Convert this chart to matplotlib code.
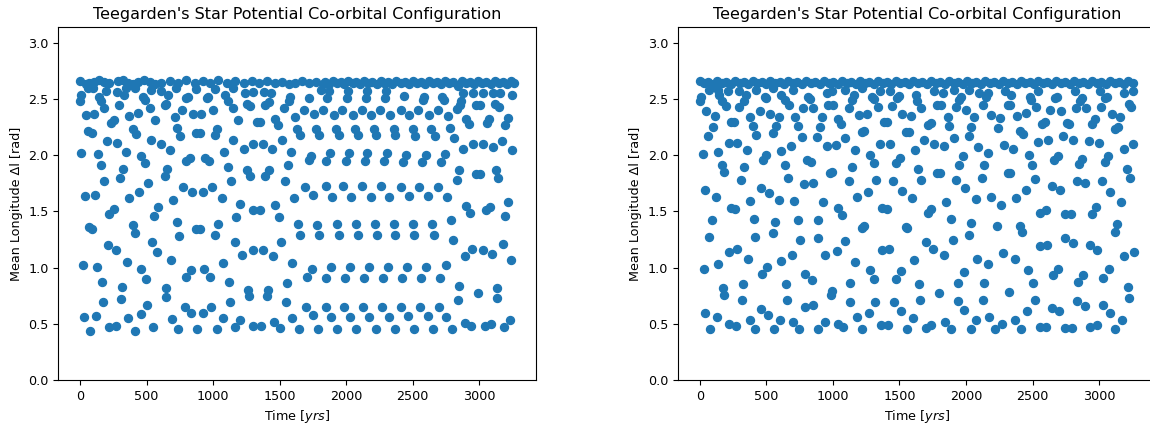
import matplotlib
matplotlib.use('Agg')
import matplotlib.pyplot as plt
import numpy as np

# (time [yr], mean longitude difference [rad])
# ---- left panel ----
a_top = [
    (0, 2.66), (44, 2.63), (69, 2.64), (102, 2.65), (144, 2.67), (183, 2.65), (221, 2.64), (284, 2.66),
    (321, 2.67), (359, 2.64), (397, 2.63), (434, 2.65), (480, 2.67), (523, 2.65), (560, 2.63),
    (611, 2.64), (674, 2.66), (737, 2.64), (800, 2.67), (863, 2.64), (926, 2.66), (976, 2.64),
    (1039, 2.67), (1102, 2.64), (1165, 2.66), (1229, 2.64), (1292, 2.66), (1343, 2.64), (1406, 2.66),
    (1469, 2.64), (1518, 2.65), (1569, 2.63), (1619, 2.64), (1670, 2.66), (1720, 2.64), (1771, 2.65),
    (1826, 2.63), (1842, 2.65), (1873, 2.63), (1899, 2.66), (1930, 2.64), (1961, 2.65), (1987, 2.63),
    (2018, 2.66), (2049, 2.64), (2074, 2.65), (2105, 2.63), (2136, 2.66), (2167, 2.64), (2198, 2.65),
    (2229, 2.63), (2260, 2.66), (2286, 2.64), (2317, 2.65), (2348, 2.63), (2379, 2.66), (2410, 2.64),
    (2441, 2.65), (2472, 2.63), (2503, 2.66), (2534, 2.64), (2565, 2.65), (2595, 2.63), (2626, 2.66),
    (2657, 2.64), (2683, 2.65), (2714, 2.63), (2745, 2.66), (2776, 2.64), (2807, 2.65), (2838, 2.62),
    (2869, 2.66), (2900, 2.64), (2931, 2.65), (2962, 2.63), (2993, 2.66), (3024, 2.64), (3055, 2.65),
    (3086, 2.63), (3117, 2.66), (3148, 2.64), (3179, 2.65), (3210, 2.63), (3240, 2.66), (3262, 2.64),
    (57, 2.60), (95, 2.60), (195, 2.57), (279, 2.56), (347, 2.60), (410, 2.60), (536, 2.58),
    (724, 2.60), (875, 2.59), (1014, 2.59), (1153, 2.60),
]
a_seg1 = [
    (6, 2.54), (0, 2.48), (144, 2.52), (158, 2.48), (296, 2.45), (334, 2.54), (473, 2.52), (485, 2.49),
    (183, 2.42), (523, 2.42), (44, 2.36), (107, 2.37), (372, 2.35), (434, 2.38), (233, 2.29), (253, 2.31),
    (566, 2.31), (62, 2.22), (90, 2.20), (397, 2.23), (422, 2.19), (203, 2.13), (279, 2.11), (536, 2.14),
    (11, 2.02), (132, 2.01), (347, 2.03), (460, 1.99), (490, 1.93), (158, 1.91), (321, 1.88), (178, 1.77),
    (303, 1.80), (510, 1.75), (36, 1.64), (115, 1.65), (366, 1.62), (447, 1.67), (221, 1.48), (258, 1.52),
    (555, 1.46), (586, 1.54), (64, 1.36), (87, 1.34), (397, 1.38), (410, 1.31), (543, 1.23), (207, 1.20),
    (270, 1.16), (581, 1.14), (19, 1.02), (127, 1.01), (354, 1.05), (460, 0.99), (497, 0.90), (163, 0.87),
    (314, 0.83), (170, 0.69), (309, 0.72), (506, 0.67), (27, 0.56), (120, 0.57), (359, 0.55), (455, 0.59),
    (74, 0.44), (221, 0.47), (270, 0.48), (410, 0.44), (548, 0.47),
]
a_seg2 = [
    (611, 2.57), (662, 2.54), (649, 2.46), (636, 2.45), (800, 2.51), (812, 2.52), (952, 2.51), (964, 2.52),
    (1090, 2.54), (1115, 2.48), (1148, 2.42), (712, 2.34), (730, 2.24), (770, 2.40), (850, 2.37),
    (913, 2.37), (997, 2.40), (1027, 2.23), (1014, 2.18), (1191, 2.31), (749, 2.17), (871, 2.20),
    (901, 2.20), (1153, 2.14), (611, 2.10), (679, 2.05), (800, 1.95), (826, 1.98), (939, 1.98),
    (971, 1.95), (1083, 2.03), (1115, 1.90), (654, 1.88), (636, 1.82), (1133, 1.77), (775, 1.72),
    (845, 1.67), (921, 1.67), (989, 1.72), (1065, 1.62), (700, 1.60), (1203, 1.57), (730, 1.41),
    (875, 1.34), (901, 1.34), (1034, 1.39), (1173, 1.45), (744, 1.28), (1014, 1.29), (1165, 1.23),
    (686, 1.07), (1216, 1.11), (1077, 1.04), (831, 0.98), (795, 0.92), (931, 0.99), (976, 0.92),
    (1120, 0.87), (649, 0.82), (644, 0.74), (1128, 0.69), (787, 0.65), (838, 0.60), (926, 0.60),
    (981, 0.65), (695, 0.54), (1077, 0.55), (737, 0.45), (880, 0.45), (1027, 0.45), (1165, 0.47),
    (1203, 0.53),
]
a_seg3 = [
    (1241, 2.55), (1297, 2.56), (1254, 2.46), (1279, 2.44), (1380, 2.56), (1438, 2.55), (1392, 2.45),
    (1423, 2.47), (1569, 2.48), (1582, 2.52), (1531, 2.42), (1720, 2.51), (1682, 2.40), (1757, 2.37),
    (1826, 2.40), (1808, 2.58), (1619, 2.34), (1329, 2.30), (1355, 2.30), (1469, 2.32), (1488, 2.27),
    (1632, 2.23), (1657, 2.18), (1776, 2.23), (1796, 2.18), (1518, 2.14), (1229, 2.06), (1304, 2.10),
    (1373, 2.10), (1443, 2.06), (1589, 2.03), (1720, 1.96), (1740, 1.99), (1563, 1.91), (1254, 1.87),
    (1279, 1.82), (1392, 1.82), (1423, 1.87), (1544, 1.77), (1690, 1.72), (1750, 1.65), (1607, 1.62),
    (1304, 1.51), (1355, 1.51), (1463, 1.56), (1498, 1.45), (1640, 1.39), (1652, 1.29), (1783, 1.38),
    (1796, 1.29), (1514, 1.23), (1304, 1.16), (1373, 1.16), (1448, 1.10), (1594, 1.04), (1745, 0.99),
    (1708, 0.92), (1556, 0.86), (1261, 0.80), (1271, 0.75), (1413, 0.80), (1406, 0.75), (1551, 0.69),
    (1695, 0.65), (1750, 0.58), (1594, 0.55), (1304, 0.48), (1362, 0.48), (1455, 0.52), (1506, 0.46),
    (1645, 0.45), (1791, 0.45),
]
a_seg4 = [
    (1935, 0.45), (2078, 0.45), (2225, 0.45), (2368, 0.45),
    (1884, 0.56), (2030, 0.56), (2174, 0.56), (2320, 0.56),
    (1846, 0.65), (1986, 0.65), (2129, 0.65), (2269, 0.65),
    (1846, 0.91), (1990, 0.91), (2131, 0.91), (2275, 0.91),
    (1884, 1.01), (2028, 1.01), (2174, 1.01), (2313, 1.01),
    (1947, 1.29), (2086, 1.29), (2229, 1.29), (2370, 1.29),
    (1930, 1.39), (2073, 1.39), (2217, 1.39), (2358, 1.39),
    (1897, 1.63), (2040, 1.63), (2187, 1.63), (2325, 1.63),
    (1846, 1.73), (1980, 1.73), (2119, 1.73), (2262, 1.73),
    (1846, 1.95), (1998, 1.95), (2141, 1.95), (2288, 1.95),
    (1879, 2.02), (2023, 2.02), (2161, 2.02), (2308, 2.02),
    (1947, 2.18), (2086, 2.18), (2225, 2.18), (2370, 2.18),
    (1922, 2.23), (2066, 2.23), (2212, 2.23), (2358, 2.23),
    (1909, 2.36), (2049, 2.36), (2187, 2.36), (2330, 2.36),
    (1972, 2.40), (2116, 2.40), (2257, 2.40),
    (1859, 2.51), (2005, 2.51), (2149, 2.51), (2295, 2.51),
    (1873, 2.57), (2018, 2.57), (2159, 2.57), (2301, 2.57),
]
a_seg5 = [
    (2439, 2.53), (2589, 2.52), (2577, 2.49), (2723, 2.52), (2733, 2.49), (2867, 2.48), (2855, 2.45),
    (2413, 2.40), (2476, 2.36), (2544, 2.40), (2622, 2.36), (2690, 2.40), (2766, 2.35), (2834, 2.41),
    (2879, 2.55), (2955, 2.55), (3031, 2.55), (3106, 2.55), (3157, 2.55), (3245, 2.54),
    (2980, 2.45), (3005, 2.45), (3119, 2.46), (3152, 2.43), (2904, 2.32), (2925, 2.28), (3056, 2.29),
    (3075, 2.32), (3194, 2.27), (3220, 2.33), (2502, 2.23), (2521, 2.17), (2640, 2.23), (2665, 2.17),
    (2783, 2.24), (2809, 2.15), (2879, 2.06), (2955, 2.10), (3031, 2.10), (3101, 2.07), (3169, 2.13),
    (3245, 2.05), (2451, 2.00), (2425, 1.94), (2597, 2.00), (2572, 1.94), (2741, 2.01), (2715, 1.94),
    (2849, 1.87), (2834, 1.78), (2980, 1.83), (3005, 1.83), (3126, 1.87), (3143, 1.80),
    (2413, 1.72), (2476, 1.64), (2547, 1.72), (2615, 1.64), (2690, 1.72), (2759, 1.63),
    (2904, 1.55), (2930, 1.49), (3051, 1.51), (3081, 1.54), (3220, 1.58), (3194, 1.46),
    (2502, 1.39), (2514, 1.29), (2647, 1.39), (2660, 1.29), (2792, 1.42), (2804, 1.25),
    (2892, 1.10), (2949, 1.17), (3031, 1.16), (3094, 1.12), (3176, 1.21), (3239, 1.07),
    (2456, 1.01), (2421, 0.91), (2602, 1.01), (2565, 0.91), (2748, 1.02), (2708, 0.91),
    (2849, 0.84), (2841, 0.71), (2993, 0.77), (3131, 0.82), (3136, 0.73),
    (2413, 0.65), (2463, 0.57), (2556, 0.65), (2615, 0.57), (2698, 0.65), (2753, 0.56),
    (2514, 0.45), (2652, 0.45), (2799, 0.45), (2892, 0.51), (2942, 0.48), (3043, 0.48), (3086, 0.50),
    (3187, 0.47), (3232, 0.53),
]

# ---- right panel ----
b_top = [
    (0, 2.66), (31, 2.64), (62, 2.65), (98, 2.63), (129, 2.66), (165, 2.64), (196, 2.65), (232, 2.63),
    (263, 2.66), (299, 2.64), (330, 2.65), (366, 2.63), (397, 2.66), (433, 2.64), (464, 2.65), (501, 2.63),
    (531, 2.66), (568, 2.64), (599, 2.65), (635, 2.63), (666, 2.66), (702, 2.64), (733, 2.65), (769, 2.63),
    (800, 2.66), (836, 2.64), (867, 2.65), (903, 2.63), (934, 2.66), (970, 2.64), (1001, 2.65),
    (1037, 2.63), (1068, 2.66), (1104, 2.64), (1135, 2.65), (1171, 2.63), (1202, 2.66), (1238, 2.64),
    (1269, 2.65), (1305, 2.63), (1336, 2.66), (1373, 2.64), (1404, 2.65), (1440, 2.63), (1471, 2.66),
    (1507, 2.64), (1538, 2.65), (1574, 2.63), (1605, 2.66), (1641, 2.64), (1672, 2.65), (1708, 2.63),
    (1739, 2.66), (1775, 2.64), (1806, 2.65), (1842, 2.63), (1873, 2.66), (1909, 2.64), (1940, 2.65),
    (1976, 2.63), (2007, 2.66), (2043, 2.64), (2074, 2.65), (2110, 2.63), (2141, 2.66), (2178, 2.64),
    (2208, 2.65), (2245, 2.63), (2276, 2.66), (2312, 2.64), (2343, 2.65), (2379, 2.63), (2410, 2.66),
    (2446, 2.64), (2477, 2.65), (2513, 2.63), (2544, 2.66), (2580, 2.64), (2611, 2.65), (2647, 2.63),
    (2678, 2.66), (2714, 2.64), (2745, 2.65), (2781, 2.63), (2812, 2.66), (2848, 2.64), (2879, 2.65),
    (2915, 2.63), (2946, 2.66), (2983, 2.64), (3013, 2.65), (3050, 2.63), (3081, 2.66), (3117, 2.64),
    (3148, 2.65), (3184, 2.63), (3215, 2.66), (3251, 2.64),
    (1911, 2.58), (2025, 2.58),
]
b_seg1 = [
    (8, 2.52), (0, 2.48), (72, 2.58), (135, 2.58), (148, 2.54), (165, 2.48), (198, 2.44), (211, 2.57),
    (298, 2.57), (349, 2.54), (336, 2.48), (298, 2.43), (424, 2.58), (487, 2.52), (501, 2.51), (551, 2.60),
    (614, 2.54), (639, 2.49), (669, 2.45), (702, 2.58), (815, 2.52), (828, 2.50), (777, 2.42), (853, 2.42),
    (954, 2.55), (992, 2.57), (966, 2.45), (1004, 2.45), (46, 2.39), (115, 2.35), (235, 2.30), (261, 2.30),
    (375, 2.34), (399, 2.26), (450, 2.39), (525, 2.37), (593, 2.34), (576, 2.26), (551, 2.20), (714, 2.34),
    (740, 2.26), (916, 2.34), (903, 2.25), (1042, 2.32), (97, 2.25), (64, 2.17), (424, 2.18), (765, 2.16),
    (878, 2.16), (223, 2.11), (281, 2.11), (356, 2.05), (22, 2.01), (139, 2.03), (501, 2.00), (475, 1.96),
    (614, 2.04), (689, 2.08), (803, 1.96), (835, 1.94), (954, 2.08), (1022, 2.09), (165, 1.91), (185, 1.85),
    (331, 1.90), (639, 1.91), (664, 1.80), (312, 1.78), (785, 1.74), (853, 1.75), (979, 1.84), (997, 1.85),
    (41, 1.69), (122, 1.63), (457, 1.71), (518, 1.66), (375, 1.59), (595, 1.60), (709, 1.59), (235, 1.53),
    (266, 1.52), (929, 1.58), (1042, 1.53), (90, 1.42), (407, 1.43), (563, 1.41), (740, 1.42), (891, 1.42),
    (72, 1.27), (417, 1.27), (551, 1.31), (752, 1.25), (885, 1.26), (218, 1.14), (279, 1.17), (361, 1.08),
    (614, 1.06), (695, 1.11), (941, 1.11), (1029, 1.15), (29, 0.99), (135, 1.03), (508, 1.01), (467, 0.94),
    (791, 0.94), (840, 0.89), (172, 0.82), (180, 0.76), (324, 0.85), (651, 0.85), (992, 0.79), (985, 0.76),
    (316, 0.71), (658, 0.71), (462, 0.63), (513, 0.58), (791, 0.65), (848, 0.67), (39, 0.60), (127, 0.56),
    (375, 0.53), (601, 0.53), (702, 0.52), (941, 0.52), (1042, 0.50), (79, 0.45), (223, 0.50), (273, 0.48),
    (412, 0.45), (558, 0.45), (747, 0.45), (891, 0.45),
]
b_seg2 = [
    (1093, 2.58), (1156, 2.54), (1142, 2.49), (1118, 2.42), (1219, 2.60), (1294, 2.52), (1307, 2.50),
    (1337, 2.43), (1357, 2.57), (1432, 2.57), (1446, 2.44), (1483, 2.51), (1495, 2.53), (1621, 2.54),
    (1630, 2.48), (1659, 2.42), (1761, 2.57), (1824, 2.55), (1785, 2.45), (1811, 2.45), (1924, 2.43),
    (1949, 2.49), (1962, 2.52), (2000, 2.40), (2100, 2.55), (2151, 2.52), (2126, 2.45), (2163, 2.55),
    (1193, 2.36), (1256, 2.37), (1382, 2.30), (1408, 2.30), (1521, 2.37), (1589, 2.35), (1735, 2.29),
    (1715, 2.27), (1861, 2.34), (1874, 2.26), (2063, 2.34), (2189, 2.36), (1062, 2.28), (1219, 2.21),
    (1236, 2.22), (1546, 2.21), (1572, 2.21), (1685, 2.14), (1761, 2.10), (1836, 2.08), (1906, 2.15),
    (2037, 2.25), (2020, 2.17), (1093, 2.15), (1357, 2.10), (1427, 2.10), (1168, 2.05), (1614, 2.05),
    (1282, 2.00), (1307, 1.93), (1471, 1.93), (1504, 1.98), (1974, 1.99), (1949, 1.91), (2088, 2.07),
    (2163, 2.02), (1142, 1.90), (1640, 1.88), (1780, 1.84), (1806, 1.84), (2138, 1.91), (2119, 1.80),
    (1118, 1.77), (1327, 1.78), (1453, 1.77), (1665, 1.78), (1924, 1.78), (1992, 1.71), (1181, 1.63),
    (1261, 1.67), (1516, 1.68), (1596, 1.62), (2075, 1.61), (2184, 1.63), (1369, 1.53), (1408, 1.52),
    (1715, 1.49), (1740, 1.52), (1848, 1.58), (1067, 1.47), (1219, 1.35), (1231, 1.37), (1558, 1.35),
    (1546, 1.36), (1886, 1.43), (2037, 1.40), (2025, 1.29), (1093, 1.24), (1369, 1.16), (1420, 1.17),
    (1698, 1.23), (1755, 1.17), (1899, 1.25), (1836, 1.11), (1609, 1.07), (1168, 1.05), (2083, 1.08),
    (2168, 1.03), (1277, 0.98), (1312, 0.90), (1471, 0.90), (1509, 0.97), (1982, 0.96), (1942, 0.86),
    (1130, 0.86), (1647, 0.85), (1798, 0.77), (2133, 0.86), (1125, 0.69), (1319, 0.69), (1458, 0.69),
    (1654, 0.71), (1937, 0.70), (1988, 0.62), (2126, 0.71), (1269, 0.60), (1509, 0.61), (1181, 0.56),
    (1604, 0.55), (1841, 0.52), (2075, 0.53), (2176, 0.56), (1073, 0.47), (1219, 0.45), (1362, 0.49),
    (1413, 0.49), (1558, 0.45), (1698, 0.46), (1740, 0.49), (1886, 0.45), (2037, 0.45), (2219, 0.45),
]
b_seg3 = [
    (2289, 2.57), (2340, 2.54), (2314, 2.45), (2332, 2.45), (2478, 2.52), (2490, 2.49), (2523, 2.43),
    (2541, 2.57), (2667, 2.51), (2680, 2.52), (2630, 2.40), (2710, 2.39), (2818, 2.57), (2869, 2.51),
    (2857, 2.48), (2826, 2.42), (2901, 2.42), (3007, 2.57), (3045, 2.51), (3058, 2.52), (3012, 2.43),
    (3095, 2.37), (3159, 2.34), (3184, 2.55), (3254, 2.57), (3222, 2.46), (3239, 2.43), (2256, 2.33),
    (2238, 2.24), (2382, 2.35), (2448, 2.38), (2567, 2.28), (2591, 2.30), (2755, 2.29), (2775, 2.28),
    (2944, 2.28), (2969, 2.32), (3121, 2.23), (3138, 2.25), (2402, 2.22), (2427, 2.19), (2730, 2.17),
    (2806, 2.14), (2920, 2.13), (2995, 2.11), (2282, 2.09), (2352, 2.06), (2541, 2.12), (2617, 2.14),
    (3184, 2.06), (3254, 2.10), (2473, 2.00), (2498, 1.91), (2659, 1.96), (2692, 1.99), (2869, 1.97),
    (2851, 1.92), (3045, 1.94), (3065, 1.99), (2314, 1.84), (2327, 1.84), (2516, 1.79), (2642, 1.73),
    (2705, 1.69), (2831, 1.77), (2894, 1.75), (3020, 1.77), (3083, 1.67), (3208, 1.88), (3229, 1.80),
    (2453, 1.69), (2378, 1.62), (2264, 1.56), (2553, 1.49), (2599, 1.51), (2743, 1.48), (2785, 1.48),
    (2944, 1.48), (2977, 1.54), (3163, 1.58), (2235, 1.37), (2402, 1.37), (2422, 1.32), (3133, 1.39),
    (3121, 1.32), (2553, 1.19), (2609, 1.20), (2743, 1.26), (2801, 1.22), (2932, 1.20), (2987, 1.16),
    (2277, 1.13), (2364, 1.08), (3184, 1.10), (3259, 1.14), (2465, 0.98), (2692, 0.99), (2654, 0.93),
    (3070, 0.99), (3032, 0.91), (2504, 0.86), (2881, 0.93), (2843, 0.87), (2322, 0.78), (3214, 0.83),
    (3222, 0.73), (2516, 0.71), (2649, 0.64), (2700, 0.61), (2831, 0.70), (2894, 0.66), (3028, 0.67),
    (3083, 0.60), (2458, 0.61), (2271, 0.50), (2364, 0.53), (3171, 0.53), (2415, 0.45), (2553, 0.47),
    (2604, 0.47), (2743, 0.46), (2793, 0.46), (2932, 0.47), (2982, 0.49), (3121, 0.45),
]

panels = [
    [a_top, a_seg1, a_seg2, a_seg3, a_seg4, a_seg5],
    [b_top, b_seg1, b_seg2, b_seg3],
]

fig = plt.figure(figsize=(11.5, 4.26), dpi=100)
# the right-hand axes runs slightly past the edge of the picture, as in the reference crop
ax1 = fig.add_axes([0.0507, 0.108, 0.4151, 0.8286])
ax2 = fig.add_axes([0.5896, 0.108, 0.4151, 0.8286])

for ax, segs in zip([ax1, ax2], panels):
    pts = np.array([p for s in segs for p in s])
    ax.scatter(pts[:, 0], pts[:, 1], s=33)
    ax.set_ylim(0, np.pi)
    ax.set_title("Teegarden's Star Potential Co-orbital Configuration", fontsize=11.5)
    ax.set_xlabel('Time [$yrs$]', fontsize=9.2)
    ax.set_ylabel('Mean Longitude Δl [rad]', fontsize=9.2)
    ax.tick_params(labelsize=9.2)

fig.savefig('out.png', dpi=100)
